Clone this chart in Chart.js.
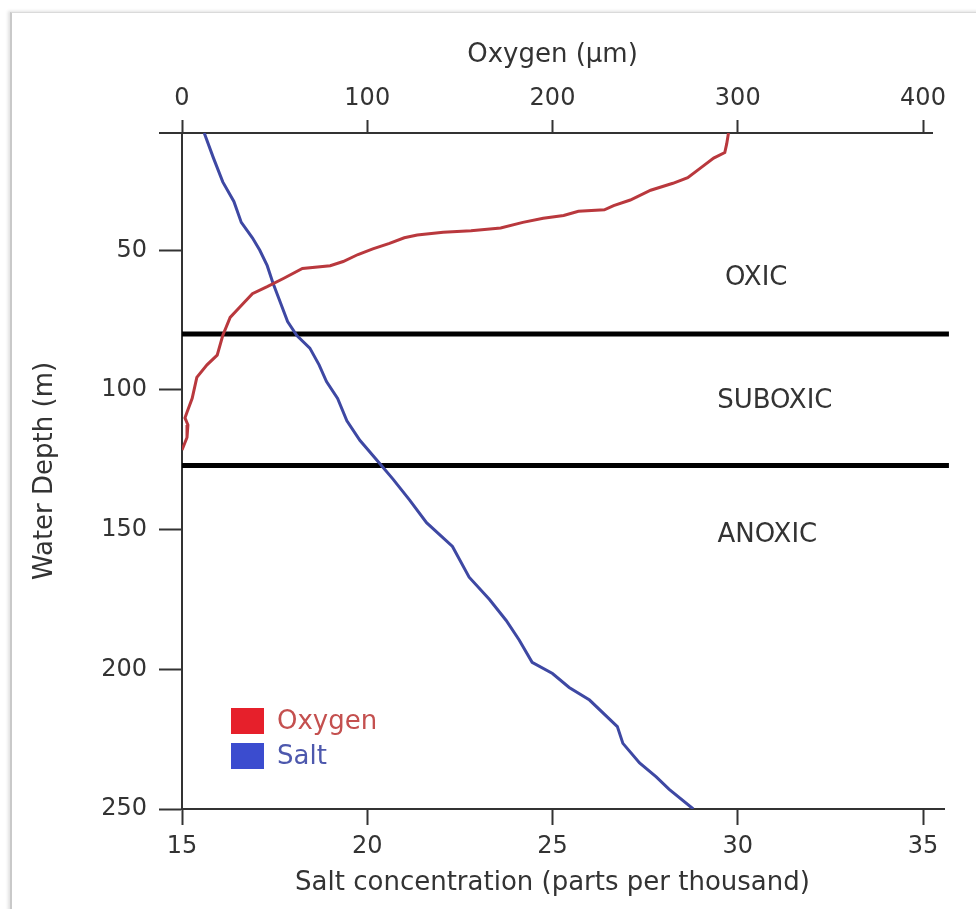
<!DOCTYPE html>
<html>
<head>
<meta charset="utf-8">
<title>Water column oxygen and salt</title>
<script src="https://cdn.jsdelivr.net/npm/chart.js@4.4.1/dist/chart.umd.min.js"></script>
<style>
  html, body { margin: 0; padding: 0; background: #fff; overflow: hidden; }
  #frame {
    position: absolute; left: 10px; top: 12px; width: 980px; height: 910px;
    border-left: 2px solid #c9c9c9; border-top: 1px solid #dadada;
    box-shadow: -2px -1px 3px rgba(0,0,0,0.12);
  }
  #wrap { position: absolute; left: 0; top: 0; width: 976px; height: 909px; }
</style>
</head>
<body>
<div id="frame"></div>
<div id="wrap"><canvas id="depthChart"></canvas></div>
<script>
// oxygen profile (µm) vs depth (m)
const oxygenDepth = [8, 12, 15, 17, 20.5, 24, 26, 28.5, 32, 34,
  35.5, 36, 37.5, 38.5, 40, 42, 43, 43.5, 44.5, 45.5,
  47.5, 49.5, 51.5, 54, 55.5, 56.5, 60, 63, 65.5, 70.5,
  74, 80.5, 87.5, 91, 95.5, 103, 108, 110, 112.5, 117, 121.5];
const oxygenValues = [295, 294, 293, 287, 280, 273, 265, 253, 242, 233,
  228, 214, 206, 195, 184, 172, 156, 141, 127, 120,
  112, 103, 95, 87, 80, 65, 55, 46, 38, 31,
  26, 22, 19, 13.5, 8, 5.5, 2.7, 1.6, 3.2, 2.7, 0];

// salt profile (parts per thousand) vs depth (m)
const saltDepth = [8, 17, 25.5, 32.5, 40, 45.5, 50, 55.5, 61.5, 68.5,
  75.5, 80.5, 85, 91, 97, 103, 111, 118, 125, 132,
  139.5, 147.5, 156, 167, 175, 182.5, 189.5, 197.5, 201.5, 206.5,
  211, 220.5, 226.5, 233.5, 238.5, 243, 250];
const saltValues = [15.6, 15.85, 16.1, 16.4, 16.6, 16.9, 17.1, 17.3, 17.45, 17.65,
  17.85, 18.1, 18.45, 18.7, 18.9, 19.2, 19.45, 19.8, 20.25, 20.7,
  21.15, 21.6, 22.3, 22.75, 23.3, 23.75, 24.1, 24.45, 25.0, 25.45,
  26.0, 26.75, 26.9, 27.35, 27.8, 28.15, 28.8];

// zones
const zoneBoundaries = [80, 127];
const zoneLineSalt = [15, 35.7];
const zoneNames = ["OXIC", "SUBOXIC", "ANOXIC"];
const zoneLabelDepth = [60, 104, 152];
const zoneLabelSalt = [30.5, 31.0, 30.8];

const depthTicks = [50, 100, 150, 200, 250];

const FONT = "'DejaVu Sans', sans-serif";
const AXIS = "#333333";
const legendText = ["#c4504f", "#4d58ad"];

const toPoints = (xs, ys) => xs.map((x, i) => ({ x: x, y: ys[i] }));

const extras = {
  id: "extras",
  afterDraw(chart) {
    const { ctx, chartArea: a, scales } = chart;
    ctx.save();

    // axis line overhangs
    ctx.strokeStyle = AXIS;
    ctx.lineWidth = 2;
    ctx.beginPath();
    ctx.moveTo(a.left - 23, a.top); ctx.lineTo(a.left, a.top);
    ctx.moveTo(a.right, a.top); ctx.lineTo(a.right + 10, a.top);
    ctx.moveTo(a.right, a.bottom); ctx.lineTo(a.right + 22, a.bottom);
    ctx.stroke();

    // zone names
    ctx.fillStyle = AXIS;
    ctx.font = "26px " + FONT;
    ctx.textAlign = "center";
    ctx.textBaseline = "middle";
    zoneNames.forEach((name, i) => {
      ctx.fillText(name, scales.xS.getPixelForValue(zoneLabelSalt[i]),
        scales.y.getPixelForValue(zoneLabelDepth[i]));
    });

    // legend inside the plot
    ctx.textAlign = "left";
    chart.data.datasets.slice(0, 2).forEach((d, i) => {
      const top = a.bottom - 101 + i * 35;
      ctx.fillStyle = d.backgroundColor;
      ctx.fillRect(a.left + 49, top, 33, 26);
      ctx.fillStyle = legendText[i];
      ctx.fillText(d.label, a.left + 95, top + 14);
    });
    ctx.restore();
  }
};

new Chart(document.getElementById("depthChart"), {
  type: "scatter",
  data: {
    datasets: [
      {
        label: "Oxygen",
        data: toPoints(oxygenValues, oxygenDepth),
        xAxisID: "xO",
        showLine: true,
        borderColor: "#b9383d",
        backgroundColor: "#e6202b",
        borderWidth: 3,
        pointRadius: 0
      },
      {
        label: "Salt",
        data: toPoints(saltValues, saltDepth),
        xAxisID: "xS",
        showLine: true,
        borderColor: "#3e48a3",
        backgroundColor: "#3b4ccf",
        borderWidth: 3,
        pointRadius: 0
      },
      ...zoneBoundaries.map((d) => ({
        label: "zone",
        data: zoneLineSalt.map((s) => ({ x: s, y: d })),
        xAxisID: "xS",
        showLine: true,
        borderColor: "#000000",
        borderWidth: 5,
        pointRadius: 0,
        clip: false
      }))
    ]
  },
  options: {
    responsive: true,
    maintainAspectRatio: false,
    animation: false,
    layout: { padding: { left: 0, right: 53, top: 0, bottom: 0 } },
    plugins: {
      legend: { display: false },
      tooltip: { enabled: false }
    },
    scales: {
      xO: {
        type: "linear",
        position: "top",
        min: 0,
        max: 400,
        ticks: { stepSize: 100, color: AXIS, font: { family: FONT, size: 24 }, padding: 7 },
        grid: { display: true, drawOnChartArea: false, drawTicks: true, tickLength: 13, tickColor: AXIS, tickWidth: 2 },
        border: { color: AXIS, width: 2 },
        title: { display: true, text: "Oxygen (µm)", color: AXIS, font: { family: FONT, size: 26 }, padding: { top: 40, bottom: 0 } },
        afterFit(s) { s.height = 133; }
      },
      xS: {
        type: "linear",
        position: "bottom",
        min: 15,
        max: 35,
        ticks: { stepSize: 5, color: AXIS, font: { family: FONT, size: 24 }, padding: 7 },
        grid: { display: true, drawOnChartArea: false, drawTicks: true, tickLength: 16, tickColor: AXIS, tickWidth: 2 },
        border: { color: AXIS, width: 2 },
        title: { display: true, text: "Salt concentration (parts per thousand)", color: AXIS, font: { family: FONT, size: 26 }, padding: { top: 0, bottom: 10 } },
        afterFit(s) { s.height = 100; }
      },
      y: {
        type: "linear",
        position: "left",
        reverse: true,
        min: 8,
        max: 250,
        afterBuildTicks(s) { s.ticks = depthTicks.map((v) => ({ value: v })); },
        ticks: { color: AXIS, font: { family: FONT, size: 24 }, padding: 12 },
        grid: { display: true, drawOnChartArea: false, drawTicks: true, tickLength: 23, tickColor: AXIS, tickWidth: 2 },
        border: { color: AXIS, width: 2 },
        title: { display: true, text: "Water Depth (m)", color: AXIS, font: { family: FONT, size: 26 }, padding: { top: 30, bottom: 0 } },
        afterFit(s) { s.width = 182; }
      }
    }
  },
  plugins: [extras]
});
</script>
</body>
</html>
